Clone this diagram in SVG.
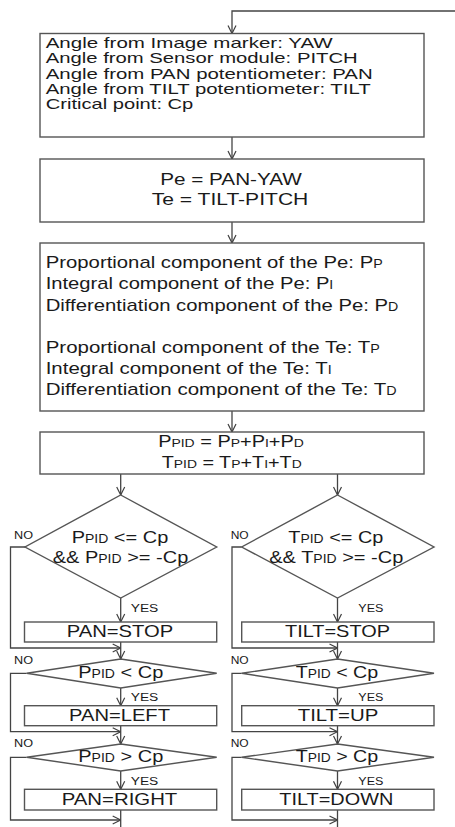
<svg xmlns="http://www.w3.org/2000/svg" width="455" height="827" viewBox="0 0 455 827">
<defs>
<marker id="arr" viewBox="0 0 10 10" refX="10" refY="5" markerWidth="10" markerHeight="10" markerUnits="userSpaceOnUse" orient="auto">
<path d="M2,1 L10,5 L2,9" fill="none" stroke="#404040" stroke-width="1.2"/>
</marker>
</defs>
<style>
.box{fill:#fff;stroke:#555;stroke-width:1.4}
.ln{fill:none;stroke:#444;stroke-width:1.3}
text{font-family:"Liberation Sans",Arial,sans-serif;fill:#1a1a1a}
.t1{font-size:14.5px}
.t3{font-size:17px}
.t2{font-size:16px}
.td{font-size:17px}
.tb{font-size:17px}
.lab{font-size:10px}
.s{font-size:70%}
</style>
<rect width="455" height="827" fill="#fff"/>
<g id="connectors">
<polyline class="ln" points="455,11 232,11 232,33.5" marker-end="url(#arr)"/>
<line class="ln" x1="232" y1="137" x2="232" y2="159" marker-end="url(#arr)"/>
<line class="ln" x1="232" y1="222" x2="232" y2="243" marker-end="url(#arr)"/>
<line class="ln" x1="232" y1="411" x2="232" y2="432" marker-end="url(#arr)"/>
<line class="ln" x1="120.7" y1="474" x2="120.7" y2="495" marker-end="url(#arr)"/>
<line class="ln" x1="337.5" y1="474" x2="337.5" y2="495" marker-end="url(#arr)"/>
<line class="ln" x1="120.7" y1="598" x2="120.7" y2="622" marker-end="url(#arr)"/>
<line class="ln" x1="337.5" y1="598" x2="337.5" y2="622" marker-end="url(#arr)"/>
<polyline class="ln" points="25,547 10.5,547 10.5,648 120.7,648" marker-end="url(#arr)"/>
<polyline class="ln" points="241.7,547 232,547 232,648 337.5,648" marker-end="url(#arr)"/>
<line class="ln" x1="120.7" y1="642" x2="120.7" y2="659" marker-end="url(#arr)"/>
<line class="ln" x1="337.5" y1="642" x2="337.5" y2="659" marker-end="url(#arr)"/>
<line class="ln" x1="120.7" y1="688" x2="120.7" y2="705.7" marker-end="url(#arr)"/>
<line class="ln" x1="337.5" y1="688" x2="337.5" y2="705.7" marker-end="url(#arr)"/>
<polyline class="ln" points="26.7,673.3 10.5,673.3 10.5,731.7 120.7,731.7" marker-end="url(#arr)"/>
<polyline class="ln" points="241.7,673.3 232,673.3 232,731.7 337.5,731.7" marker-end="url(#arr)"/>
<line class="ln" x1="120.7" y1="725.7" x2="120.7" y2="744" marker-end="url(#arr)"/>
<line class="ln" x1="337.5" y1="725.7" x2="337.5" y2="744" marker-end="url(#arr)"/>
<line class="ln" x1="120.7" y1="771" x2="120.7" y2="789.3" marker-end="url(#arr)"/>
<line class="ln" x1="337.5" y1="771" x2="337.5" y2="789.3" marker-end="url(#arr)"/>
<polyline class="ln" points="26.7,757.3 10.5,757.3 10.5,820 120.7,820" marker-end="url(#arr)"/>
<polyline class="ln" points="241.7,757.3 232,757.3 232,820 337.5,820" marker-end="url(#arr)"/>
<line class="ln" x1="120.7" y1="810" x2="120.7" y2="827"/>
<line class="ln" x1="337.5" y1="810" x2="337.5" y2="827"/>
</g>
<g id="inputs">
<rect class="box" x="40" y="33.5" width="384" height="103.5"/>
<text class="t1" x="45.7" y="47.7" textLength="287" lengthAdjust="spacingAndGlyphs">Angle from Image marker: YAW</text>
<text class="t1" x="45.7" y="63.2" textLength="312" lengthAdjust="spacingAndGlyphs">Angle from Sensor module: PITCH</text>
<text class="t1" x="45.7" y="78.6" textLength="327" lengthAdjust="spacingAndGlyphs">Angle from PAN potentiometer: PAN</text>
<text class="t1" x="45.7" y="94" textLength="325" lengthAdjust="spacingAndGlyphs">Angle from TILT potentiometer: TILT</text>
<text class="t1" x="45.7" y="109.4" textLength="147.6" lengthAdjust="spacingAndGlyphs">Critical point: Cp</text>
</g>
<g id="errors">
<rect class="box" x="40" y="159" width="384" height="63"/>
<text class="t2" x="231" y="185" text-anchor="middle" textLength="141.7" lengthAdjust="spacingAndGlyphs">Pe = PAN-YAW</text>
<text class="t2" x="230" y="205" text-anchor="middle" textLength="156.7" lengthAdjust="spacingAndGlyphs">Te = TILT-PITCH</text>
</g>
<g id="components">
<rect class="box" x="40" y="243" width="384" height="168"/>
<text class="t3" x="45.7" y="268" textLength="337" lengthAdjust="spacingAndGlyphs">Proportional component of the Pe: P<tspan class="s">P</tspan></text>
<text class="t3" x="45.7" y="289" textLength="287.6" lengthAdjust="spacingAndGlyphs">Integral component of the Pe: P<tspan class="s">I</tspan></text>
<text class="t3" x="45.7" y="310.5" textLength="352.6" lengthAdjust="spacingAndGlyphs">Differentiation component of the Pe: P<tspan class="s">D</tspan></text>
<text class="t3" x="45.7" y="352.5" textLength="334" lengthAdjust="spacingAndGlyphs">Proportional component of the Te: T<tspan class="s">P</tspan></text>
<text class="t3" x="45.7" y="373.5" textLength="286" lengthAdjust="spacingAndGlyphs">Integral component of the Te: T<tspan class="s">I</tspan></text>
<text class="t3" x="45.7" y="395" textLength="351" lengthAdjust="spacingAndGlyphs">Differentiation component of the Te: T<tspan class="s">D</tspan></text>
</g>
<g id="pid">
<rect class="box" x="40" y="432" width="384" height="42"/>
<text class="t2" x="231" y="446.5" text-anchor="middle" textLength="145.7" lengthAdjust="spacingAndGlyphs">P<tspan class="s">PID</tspan> = P<tspan class="s">P</tspan>+P<tspan class="s">I</tspan>+P<tspan class="s">D</tspan></text>
<text class="t2" x="231.7" y="468" text-anchor="middle" textLength="140" lengthAdjust="spacingAndGlyphs">T<tspan class="s">PID</tspan> = T<tspan class="s">P</tspan>+T<tspan class="s">I</tspan>+T<tspan class="s">D</tspan></text>
</g>
<g id="pan-check1">
<polygon class="box" points="120.7,495 216.7,547 120.7,598 25,547"/>
<text class="td" x="120" y="543.3" text-anchor="middle" textLength="96.6" lengthAdjust="spacingAndGlyphs">P<tspan class="s">PID</tspan> &lt;= Cp</text>
<text class="td" x="120.5" y="563" text-anchor="middle" textLength="135.6" lengthAdjust="spacingAndGlyphs">&amp;&amp; P<tspan class="s">PID</tspan> &gt;= -Cp</text>
<text class="lab" x="14" y="539" textLength="19" lengthAdjust="spacingAndGlyphs">NO</text>
<text class="lab" x="130.7" y="611.7" textLength="27.6" lengthAdjust="spacingAndGlyphs">YES</text>
</g>
<g id="tilt-check1">
<polygon class="box" points="337.5,495 434,547 337.5,598 241.7,547"/>
<text class="td" x="335.8" y="543.3" text-anchor="middle" textLength="95" lengthAdjust="spacingAndGlyphs">T<tspan class="s">PID</tspan> &lt;= Cp</text>
<text class="td" x="336.3" y="563" text-anchor="middle" textLength="134" lengthAdjust="spacingAndGlyphs">&amp;&amp; T<tspan class="s">PID</tspan> &gt;= -Cp</text>
<text class="lab" x="230.7" y="539" textLength="18" lengthAdjust="spacingAndGlyphs">NO</text>
<text class="lab" x="358.3" y="611.7" textLength="25" lengthAdjust="spacingAndGlyphs">YES</text>
</g>
<g id="pan-stop">
<rect class="box" x="24.5" y="622" width="192.2" height="20"/>
<text class="tb" x="120" y="637" text-anchor="middle" textLength="106.6" lengthAdjust="spacingAndGlyphs">PAN=STOP</text>
</g>
<g id="tilt-stop">
<rect class="box" x="241.7" y="622" width="192.3" height="20"/>
<text class="tb" x="337.5" y="637" text-anchor="middle" textLength="105" lengthAdjust="spacingAndGlyphs">TILT=STOP</text>
</g>
<g id="pan-check2">
<polygon class="box" points="120.7,659 216.7,673.3 120.7,688 26.7,673.3"/>
<text class="td" x="120.8" y="678.3" text-anchor="middle" textLength="85" lengthAdjust="spacingAndGlyphs">P<tspan class="s">PID</tspan> &lt; Cp</text>
<text class="lab" x="14" y="664" textLength="19" lengthAdjust="spacingAndGlyphs">NO</text>
<text class="lab" x="130.7" y="701" textLength="27.6" lengthAdjust="spacingAndGlyphs">YES</text>
</g>
<g id="tilt-check2">
<polygon class="box" points="337.5,659 434,673.3 337.5,688 241.7,673.3"/>
<text class="td" x="337" y="678.3" text-anchor="middle" textLength="82.6" lengthAdjust="spacingAndGlyphs">T<tspan class="s">PID</tspan> &lt; Cp</text>
<text class="lab" x="230.7" y="664" textLength="18" lengthAdjust="spacingAndGlyphs">NO</text>
<text class="lab" x="358.3" y="701" textLength="25" lengthAdjust="spacingAndGlyphs">YES</text>
</g>
<g id="pan-left">
<rect class="box" x="24.5" y="705.7" width="192.2" height="20"/>
<text class="tb" x="119.5" y="721" text-anchor="middle" textLength="101" lengthAdjust="spacingAndGlyphs">PAN=LEFT</text>
</g>
<g id="tilt-up">
<rect class="box" x="241.7" y="705.7" width="192.3" height="20"/>
<text class="tb" x="338" y="721" text-anchor="middle" textLength="80.6" lengthAdjust="spacingAndGlyphs">TILT=UP</text>
</g>
<g id="pan-check3">
<polygon class="box" points="120.7,744 216.7,757.3 120.7,771 26.7,757.3"/>
<text class="td" x="120.8" y="762" text-anchor="middle" textLength="85" lengthAdjust="spacingAndGlyphs">P<tspan class="s">PID</tspan> &gt; Cp</text>
<text class="lab" x="14" y="747" textLength="19" lengthAdjust="spacingAndGlyphs">NO</text>
<text class="lab" x="130.7" y="785" textLength="27.6" lengthAdjust="spacingAndGlyphs">YES</text>
</g>
<g id="tilt-check3">
<polygon class="box" points="337.5,744 434,757.3 337.5,771 241.7,757.3"/>
<text class="td" x="337" y="762" text-anchor="middle" textLength="82.6" lengthAdjust="spacingAndGlyphs">T<tspan class="s">PID</tspan> &gt; Cp</text>
<text class="lab" x="230.7" y="747" textLength="18" lengthAdjust="spacingAndGlyphs">NO</text>
<text class="lab" x="358.3" y="785" textLength="25" lengthAdjust="spacingAndGlyphs">YES</text>
</g>
<g id="pan-right">
<rect class="box" x="24.5" y="789.3" width="192.2" height="20.7"/>
<text class="tb" x="119.5" y="804.5" text-anchor="middle" textLength="115.6" lengthAdjust="spacingAndGlyphs">PAN=RIGHT</text>
</g>
<g id="tilt-down">
<rect class="box" x="241.7" y="789.3" width="192.3" height="20.7"/>
<text class="tb" x="336.3" y="804.5" text-anchor="middle" textLength="114" lengthAdjust="spacingAndGlyphs">TILT=DOWN</text>
</g>
</svg>
